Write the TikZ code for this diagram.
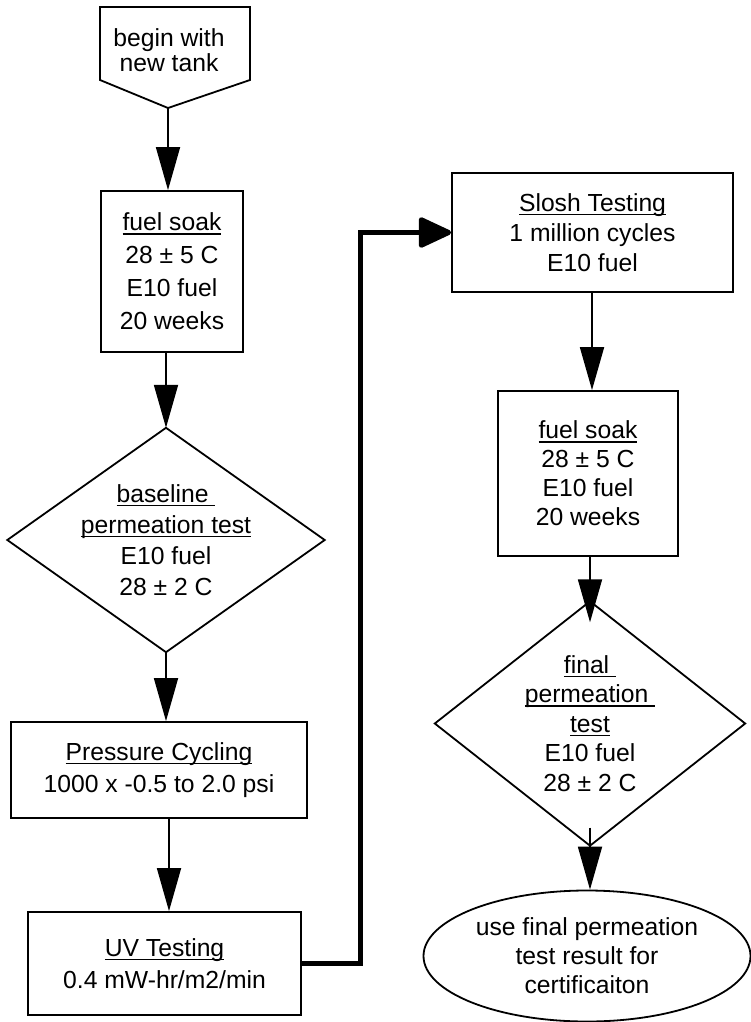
\documentclass[tikz,border=0pt]{standalone}
\usepackage{fontspec}
\setmainfont{Liberation Sans}
\usetikzlibrary{arrows.meta,calc,shapes.geometric}
\newcommand\ulx[1]{\setbox0=\hbox{#1}\leavevmode\rlap{\vrule height -2.2pt depth 3.9pt width \wd0}\box0}
\begin{document}
\begin{tikzpicture}[x=1pt,y=-1pt,
  txt/.style={font=\fontsize{24.7}{29.5}\selectfont, align=center},
  boxn/.style={txt, draw, line width=1.8pt, inner sep=0pt},
  outline/.style={line width=1.8pt},
  flow/.style={line width=1.8pt, -{Triangle[length=43pt,width=24pt]}},
  bigflow/.style={line width=5pt, -{Triangle[length=36pt,width=32pt,round]}}]

\fill[white] (0,0) rectangle (751,1022);
\useasboundingbox (0,0) rectangle (751,1022);

% start shape
\node[txt, font=\fontsize{24.7}{25.5}\selectfont] (start) at (169,50) {begin with\\new tank};
\coordinate (starttip) at (168,108);
\draw[outline] (100,7) -- (250,7) -- (250,80) -- (starttip) -- (100,80) -- cycle;

% left column
\node[boxn, minimum width=142pt, minimum height=161pt, font=\fontsize{24.7}{33}\selectfont] (soak1) at (172,271.5)
  {\ulx{fuel soak}\\28 ± 5 C\\E10 fuel\\20 weeks};
\node[txt, minimum width=317pt, minimum height=224pt, inner sep=0pt, font=\fontsize{24.7}{31}\selectfont] (diam1) at (166,540)
  {\ulx{baseline\ }\\\ulx{permeation test}\\E10 fuel\\28 ± 2 C};
\draw[outline] (diam1.north) -- (diam1.east) -- (diam1.south) -- (diam1.west) -- cycle;
\node[boxn, minimum width=296pt, minimum height=96pt, font=\fontsize{24.7}{32}\selectfont] (press) at (159,770)
  {\ulx{Pressure Cycling}\\1000 x -0.5 to 2.0 psi};
\node[boxn, minimum width=273pt, minimum height=103pt, font=\fontsize{24.7}{32}\selectfont] (uv) at (164.5,963.5)
  {\ulx{UV Testing}\\0.4 mW-hr/m2/min};

% right column
\node[boxn, minimum width=281pt, minimum height=119pt, font=\fontsize{24.7}{30}\selectfont] (slosh) at (592.5,232.5)
  {\ulx{Slosh Testing}\\1 million cycles\\E10 fuel};
\node[boxn, minimum width=180pt, minimum height=165pt, font=\fontsize{24.7}{29}\selectfont] (soak2) at (588,473.5)
  {\ulx{fuel soak}\\28 ± 5 C\\E10 fuel\\20 weeks};
\node[txt, minimum width=310pt, minimum height=244pt, inner sep=0pt] (diam2) at (590,723.5)
  {\ulx{final\ }\\\ulx{permeation\ }\\\ulx{test}\\E10 fuel\\28 ± 2 C};
\draw[outline] (diam2.north) -- (diam2.east) -- (diam2.south) -- (diam2.west) -- cycle;
\node[txt, draw, ellipse, line width=1.8pt, minimum width=327pt, minimum height=131pt, inner sep=0pt, font=\fontsize{24.7}{29}\selectfont] (endn) at (587,956)
  {use final permeation\\test result for\\certificaiton};

% connectors
\coordinate (a4) at (169,0);
\coordinate (a6) at (592,0);
\coordinate (bend) at (360,0);
\draw[flow] (starttip) -- (starttip |- soak1.north);
\draw[flow] (diam1.north |- soak1.south) -- (diam1.north);
\draw[flow] (diam1.south) -- (diam1.south |- press.north);
\draw[flow] (a4 |- press.south) -- (a4 |- uv.north);
\draw[bigflow] (uv.east) -- (uv.east -| bend) -- (bend |- slosh.west) -- (slosh.west);
\draw[flow] (a6 |- slosh.south) -- (a6 |- soak2.north);
\draw[flow] (diam2.north |- soak2.south) -- ($(diam2.north)+(0,21)$);
\draw[flow] ($(diam2.south)+(0,-18)$) -- (diam2.south |- endn.north);
\end{tikzpicture}
\end{document}
